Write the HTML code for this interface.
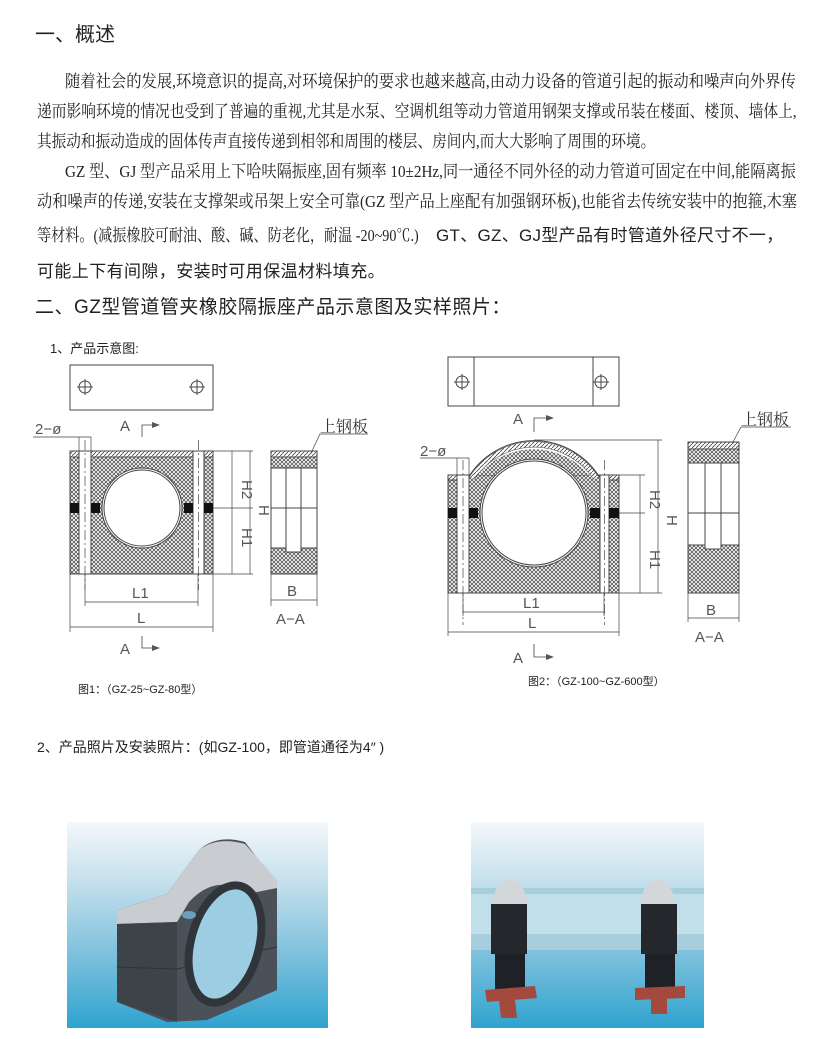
<!DOCTYPE html>
<html><head><meta charset="utf-8">
<style>
html,body{margin:0;padding:0;background:#fff;}
body{width:830px;height:1039px;position:relative;overflow:hidden;font-family:"Liberation Sans","Noto Sans CJK SC",sans-serif;color:#222;}
.t{position:absolute;white-space:nowrap;}
.p{position:absolute;font-family:"Liberation Serif","Noto Serif CJK SC",serif;font-size:17px;color:#222;white-space:nowrap;transform-origin:left top;display:inline-block;}
.h{font-size:19px;color:#222;}
</style></head><body>
<div class="t h" style="left:35px;top:18px;font-size:20px;">一、概述</div>

<div class="p" data-w="731" style="left:65px;top:67px;">随着社会的发展,环境意识的提高,对环境保护的要求也越来越高,由动力设备的管道引起的振动和噪声向外界传</div>
<div class="p" data-w="760" style="left:37px;top:97px;">递而影响环境的情况也受到了普遍的重视,尤其是水泵、空调机组等动力管道用钢架支撑或吊装在楼面、楼顶、墙体上,</div>
<div class="p" data-w="618" style="left:37px;top:127px;">其振动和振动造成的固体传声直接传递到相邻和周围的楼层、房间内,而大大影响了周围的环境。</div>
<div class="p" data-w="731" style="left:65px;top:157px;">GZ 型、GJ 型产品采用上下哈呋隔振座,固有频率 10±2Hz,同一通径不同外径的动力管道可固定在中间,能隔离振</div>
<div class="p" data-w="760" style="left:37px;top:187px;">动和噪声的传递,安装在支撑架或吊架上安全可靠(GZ 型产品上座配有加强钢环板),也能省去传统安装中的抱箍,木塞</div>
<div class="p" data-w="382" style="left:37px;top:221px;">等材料。(减振橡胶可耐油、酸、碱、防老化，耐温 -20~90℃.)</div>
<div class="t" style="left:436px;top:221px;font-size:17px;letter-spacing:0.3px;">GT、GZ、GJ型产品有时管道外径尺寸不一，</div>
<div class="t" style="left:37px;top:257px;font-size:17px;letter-spacing:0.4px;">可能上下有间隙，安装时可用保温材料填充。</div>
<div class="t h" style="left:35px;top:292px;font-size:19px;letter-spacing:0.5px;">二、GZ型管道管夹橡胶隔振座产品示意图及实样照片：</div>

<div class="t" style="left:50px;top:338px;font-size:13px;">1、产品示意图:</div>

<svg style="position:absolute;left:0;top:0" width="830" height="720" viewBox="0 0 830 720">
<defs>
<pattern id="cx" width="4" height="4" patternUnits="userSpaceOnUse">
<rect width="4" height="4" fill="#fff"/>
<path d="M0 0L4 4M4 0L0 4" stroke="#555" stroke-width="0.8"/>
</pattern>
<pattern id="dh" width="4" height="4" patternUnits="userSpaceOnUse">
<rect width="4" height="4" fill="#fff"/>
<path d="M0 4L4 0" stroke="#444" stroke-width="0.8"/>
</pattern>
</defs>
<g fill="none" stroke="#444" stroke-width="1">
<rect x="70" y="365" width="143" height="45"/>
<circle cx="85" cy="387" r="6"/><path d="M77 387H93M85 379V395"/>
<circle cx="197" cy="387" r="6"/><path d="M189 387H205M197 379V395"/>
<rect x="70" y="451" width="143" height="123" fill="url(#cx)"/>
<rect x="70" y="451" width="143" height="6" fill="url(#dh)"/>
<rect x="79" y="451" width="12" height="123" fill="#fff"/>
<rect x="193" y="451" width="11" height="123" fill="#fff"/>
<path d="M85 440V590M198.5 440V590" stroke-dasharray="10 3 2 3" stroke-width="0.7"/>
<circle cx="142" cy="508" r="40" fill="#fff"/>
<circle cx="142" cy="508" r="38"/>
<g fill="#111" stroke="none">
<rect x="70" y="503" width="9" height="10"/><rect x="91" y="503" width="9" height="10"/>
<rect x="184" y="503" width="9" height="10"/><rect x="204" y="503" width="9" height="10"/>
</g>
<path d="M213 508H253M213 451H253M213 574H253M232 451V574M250 451V574" stroke-width="0.7"/>
<path d="M85 574V606M198 574V606M70 574V632M213 574V632M85 602H198M70 627H213" stroke-width="0.7"/>
<path d="M33 437H91M79 437V451M91 437V451" stroke-width="0.7"/>
<path d="M142 437V425H152M142 636V648H152" stroke-width="0.8"/>
<rect x="271" y="451" width="46" height="123"/>
<rect x="271" y="451" width="46" height="6" fill="url(#dh)"/>
<rect x="271" y="457" width="46" height="11" fill="url(#cx)"/>
<path d="M271 548H286V552H301V548H317V574H271Z" fill="url(#cx)"/>
<path d="M286 468V552M301 468V552M271 508H317"/>
<path d="M271 574V606M317 574V606M271 600H317" stroke-width="0.7"/>
<path d="M311 453L320 434H368" stroke-width="0.7"/>
<rect x="448" y="357" width="171" height="49"/>
<path d="M474 357V406M593 357V406"/>
<circle cx="462" cy="382" r="6"/><path d="M454 382H470M462 374V390"/>
<circle cx="601" cy="382" r="6"/><path d="M593 382H609M601 374V390"/>
<rect x="448" y="475" width="171" height="118" fill="url(#cx)"/>
<path d="M474 480 A73 73 0 0 1 593 480 L593 475 L474 475Z" fill="url(#cx)" stroke="none"/>
<path d="M472 478 A74 74 0 0 1 596 478" fill="none" stroke="#444" stroke-width="6"/>
<path d="M472 478 A74 74 0 0 1 596 478" fill="none" stroke="url(#dh)" stroke-width="5"/>
<path d="M468 478 A77 77 0 0 1 600 478"/>
<rect x="448" y="475" width="10" height="5" fill="url(#dh)"/>
<rect x="609" y="475" width="10" height="5" fill="url(#dh)"/>
<rect x="457" y="475" width="12" height="118" fill="#fff"/>
<rect x="600" y="475" width="9" height="118" fill="#fff"/>
<path d="M463 460V625M604.5 460V625" stroke-dasharray="10 3 2 3" stroke-width="0.7"/>
<circle cx="534" cy="513" r="54" fill="#fff"/>
<circle cx="534" cy="513" r="52"/>
<g fill="#111" stroke="none">
<rect x="448" y="508" width="9" height="10"/><rect x="469" y="508" width="9" height="10"/>
<rect x="590" y="508" width="10" height="10"/><rect x="609" y="508" width="10" height="10"/>
</g>
<path d="M534 440H662M619 475H645M619 513H645M619 593H662M640 475V593M658 440V593" stroke-width="0.7"/>
<path d="M463 593V616M604 593V616M448 593V636M619 593V636M463 612H604M448 632H619" stroke-width="0.7"/>
<path d="M420 458H469M457 458V475M469 458V475" stroke-width="0.7"/>
<path d="M534 432V418H546M534 644V657H546" stroke-width="0.8"/>
<rect x="688" y="442" width="51" height="151"/>
<rect x="688" y="442" width="51" height="7" fill="url(#dh)"/>
<rect x="688" y="449" width="51" height="14" fill="url(#cx)"/>
<path d="M688 545H705V549H721V545H739V593H688Z" fill="url(#cx)"/>
<path d="M705 463V549M721 463V549M688 513H739"/>
<path d="M688 593V622M739 593V622M688 618H739" stroke-width="0.7"/>
<path d="M732 444L741 427H791" stroke-width="0.7"/>
</g>
<g fill="#555" stroke="none">
<path d="M152 422L160 425L152 428Z"/><path d="M152 645L160 648L152 651Z"/>
<path d="M546 415L554 418L546 421Z"/><path d="M546 654L554 657L546 660Z"/>
</g>
<g font-family="Liberation Sans,sans-serif" fill="#555" font-size="15">
<text x="120" y="431">A</text><text x="120" y="654">A</text>
<text x="35" y="434">2−ø</text>
<text x="132" y="598">L1</text><text x="137" y="623">L</text>
<text x="287" y="596">B</text><text x="276" y="624">A−A</text>
<text transform="translate(242 480) rotate(90)">H2</text>
<text transform="translate(242 528) rotate(90)">H1</text>
<text transform="translate(259 505) rotate(90)">H</text>
<text x="513" y="424">A</text><text x="513" y="663">A</text>
<text x="420" y="456">2−ø</text>
<text x="523" y="608">L1</text><text x="528" y="628">L</text>
<text x="706" y="615">B</text><text x="695" y="642">A−A</text>
<text transform="translate(650 490) rotate(90)">H2</text>
<text transform="translate(650 550) rotate(90)">H1</text>
<text transform="translate(667 515) rotate(90)">H</text>
</g>
<g font-family="Liberation Serif,Noto Serif CJK SC,serif" fill="#333" font-size="16">
<text x="320" y="432">上钢板</text><text x="741" y="425">上钢板</text>
</g>
</svg>

<div class="t" style="left:78px;top:681px;font-size:11px;">图1：（GZ-25~GZ-80型）</div>
<div class="t" style="left:528px;top:673px;font-size:11px;">图2：（GZ-100~GZ-600型）</div>
<div class="t" style="left:37px;top:737px;font-size:14px;">2、产品照片及安装照片：(如GZ-100，即管道通径为4″ )</div>

<div style="position:absolute;left:67px;top:822px;width:261px;height:206px;background:linear-gradient(#f4f8fb,#c3dfec 30%,#7cc0dc 65%,#2fa3cf);overflow:hidden;">
<svg width="261" height="206" viewBox="0 0 261 206">
<path d="M50 88 L100 72 L132 28 Q150 12 178 20 L210 62 L210 168 L140 198 L100 200 L50 180Z" fill="#4b5158"/>
<path d="M50 88 L100 72 L132 28 Q150 14 178 22 L210 58 L210 66 L180 72 Q150 50 122 80 L110 100 L50 102Z" fill="#c9ccd0"/>
<path d="M50 102 L110 100 L110 200 L50 180Z" fill="#3e4349"/>
<path d="M50 145 L110 147 L210 125" stroke="#2e3338" stroke-width="1" fill="none"/>
<ellipse cx="158" cy="122" rx="34" ry="60" transform="rotate(15 158 122)" fill="#9dcde2"/>
<ellipse cx="158" cy="122" rx="34" ry="60" transform="rotate(15 158 122)" fill="none" stroke="#30353a" stroke-width="8"/>
<ellipse cx="122" cy="93" rx="7" ry="4" fill="#6a9fc0"/>
</svg>
</div>
<div style="position:absolute;left:471px;top:822px;width:233px;height:206px;background:linear-gradient(#f4f8fb,#c3dfec 30%,#7cc0dc 65%,#2fa3cf);overflow:hidden;">
<svg width="233" height="206" viewBox="0 0 233 206">
<rect x="0" y="66" width="233" height="62" fill="#a6cedd"/>
<rect x="0" y="72" width="233" height="40" fill="#c0dfe9"/>
<path d="M22 80 Q24 58 40 58 Q52 58 56 80 L56 130 L22 130Z" fill="#d4d7da"/>
<path d="M170 80 Q172 58 188 58 Q200 58 204 80 L204 130 L170 130Z" fill="#d4d7da"/>
<rect x="20" y="82" width="36" height="50" fill="#24282c"/>
<rect x="170" y="82" width="36" height="50" fill="#24282c"/>
<rect x="24" y="132" width="30" height="42" fill="#1e2226"/>
<rect x="174" y="132" width="30" height="42" fill="#1e2226"/>
<path d="M14 168 L64 164 L66 176 L16 180Z" fill="#a4493e"/>
<path d="M164 166 L214 164 L214 176 L164 178Z" fill="#a4493e"/>
<path d="M28 178 L44 178 L46 196 L30 196Z" fill="#a4493e"/>
<path d="M180 176 L196 176 L196 192 L180 192Z" fill="#a4493e"/>
</svg>
</div>
<script>
document.querySelectorAll('.p').forEach(function(e){var w=+e.getAttribute('data-w');var n=e.scrollWidth;if(n>0)e.style.transform='scaleX('+(w/n)+')';});
</script>
</body></html>
